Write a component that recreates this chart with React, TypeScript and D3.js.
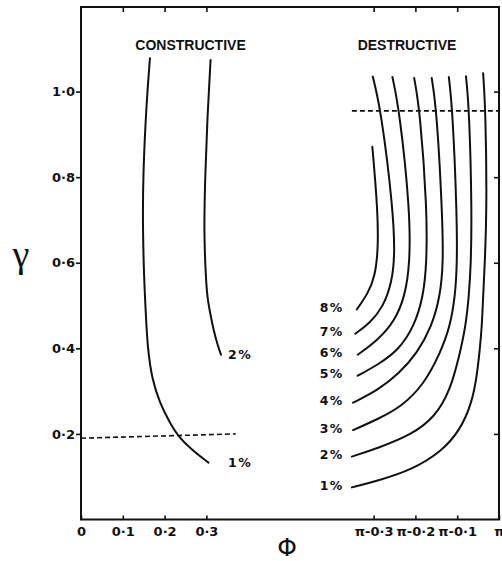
import React, { useEffect, useRef } from 'react'
import * as d3 from 'd3'

const W = 502
const H = 561

// gamma axis
const yTicks = [0.2, 0.4, 0.6, 0.8, 1.0]
const yTickLabels = ['0·2', '0·4', '0·6', '0·8', '1·0']

// phi axis (broken): low side, and the side near pi given as offsets from pi
const lowTicks = [0, 0.1, 0.2, 0.3]
const lowTickLabels = ['0', '0·1', '0·2', '0·3']
const piOffsets = [0.3, 0.2, 0.1, 0]
const piTickLabels = ['π-0·3', 'π-0·2', 'π-0·1', 'π']

// constructive contours, [phi, gamma]
const constructive1 = [
  [0.165, 1.078], [0.157, 0.98], [0.148, 0.8], [0.148, 0.67], [0.151, 0.56],
  [0.155, 0.482], [0.159, 0.404], [0.17, 0.326], [0.189, 0.272], [0.209, 0.233],
  [0.229, 0.198], [0.265, 0.163], [0.305, 0.133],
]
const constructive2 = [
  [0.31, 1.074], [0.302, 0.934], [0.297, 0.801], [0.294, 0.669], [0.299, 0.56],
  [0.302, 0.521], [0.309, 0.482], [0.317, 0.443], [0.328, 0.404], [0.335, 0.385],
]
const constructiveLabels = ['1%', '2%']

// destructive contours, [pi - phi, gamma]
const destructive1 = [
  [0.038, 1.043], [0.032, 0.955], [0.029, 0.723], [0.034, 0.599], [0.038, 0.521],
  [0.041, 0.451], [0.046, 0.396], [0.053, 0.335], [0.065, 0.272],
  [0.093, 0.209], [0.137, 0.159], [0.209, 0.116], [0.289, 0.091], [0.352, 0.075],
]
const destructive2 = [
  [0.079, 1.036], [0.071, 0.955], [0.065, 0.723], [0.067, 0.599], [0.072, 0.521],
  [0.08, 0.451], [0.093, 0.39], [0.117, 0.3], [0.153, 0.24],
  [0.209, 0.198], [0.289, 0.167], [0.352, 0.147],
]
const destructive3 = [
  [0.12, 1.034], [0.111, 0.955], [0.101, 0.723], [0.1, 0.599], [0.105, 0.521],
  [0.117, 0.451], [0.14, 0.39], [0.18, 0.315], [0.233, 0.264],
  [0.289, 0.235], [0.349, 0.209],
]
const destructive4 = [
  [0.161, 1.032], [0.149, 0.955], [0.136, 0.723], [0.133, 0.599], [0.141, 0.521],
  [0.161, 0.451], [0.195, 0.39], [0.24, 0.34], [0.289, 0.303],
  [0.349, 0.273],
]
const destructive5 = [
  [0.203, 1.032], [0.189, 0.955], [0.172, 0.723], [0.173, 0.599], [0.181, 0.521],
  [0.203, 0.451], [0.24, 0.396], [0.289, 0.362], [0.338, 0.336],
]
const destructive6 = [
  [0.255, 1.034], [0.238, 0.955], [0.213, 0.723], [0.213, 0.599], [0.225, 0.521],
  [0.25, 0.463], [0.289, 0.42], [0.338, 0.385],
]
const destructive7 = [
  [0.302, 1.035], [0.282, 0.955], [0.253, 0.723], [0.249, 0.614], [0.257, 0.552],
  [0.277, 0.497], [0.309, 0.459], [0.344, 0.434],
]
const destructive8 = [
  [0.303, 0.871], [0.29, 0.723], [0.289, 0.63], [0.297, 0.567], [0.313, 0.529],
  [0.34, 0.491],
]
const destructiveLabels = ['1%', '2%', '3%', '4%', '5%', '6%', '7%', '8%']

// dashed boundaries
const lowDashed = [[0, 0.19], [0.37, 0.2]]
const piDashed = [[0.352, 0.955], [0, 0.955]]

const App = () => {
  const svgRef = useRef<SVGSVGElement>(null)

  useEffect(() => {
    const svg = d3.select(svgRef.current)
    svg.selectAll('*').remove()

    const left = 81
    const right = 499
    const top = 6
    const bottom = 519.5
    const mid = (left + right) / 2

    const x = d3.scaleLinear()
      .domain([0, 0.5, Math.PI - 0.5, Math.PI])
      .range([left, mid, mid, right])
    const y = d3.scaleLinear().domain([0, 1.2]).range([bottom, top])

    const tickFont = 'DejaVu Sans, sans-serif'

    // frame
    svg.append('rect')
      .attr('x', left).attr('y', top + 1)
      .attr('width', right - left).attr('height', bottom - top - 1)
      .attr('fill', 'none').attr('stroke', '#111').attr('stroke-width', 2)

    const xTickVals = [...lowTicks, ...piOffsets.map(d => Math.PI - d)]
    const xTickLabels = [...lowTickLabels, ...piTickLabels]

    const gx = svg.append('g').attr('transform', `translate(0,${bottom})`)
      .call(d3.axisBottom(x).tickValues(xTickVals)
        .tickFormat((d, i) => xTickLabels[i]).tickSize(-4).tickPadding(7))
    const gTop = svg.append('g').attr('transform', `translate(0,${top + 1})`)
      .call(d3.axisTop(x).tickValues(xTickVals.filter(v => v > 0 && v < Math.PI))
        .tickFormat(() => '').tickSize(-5))
    const gy = svg.append('g').attr('transform', `translate(${left},0)`)
      .call(d3.axisLeft(y).tickValues(yTicks)
        .tickFormat((d, i) => yTickLabels[i]).tickSize(5).tickPadding(1))
    const gRight = svg.append('g').attr('transform', `translate(${right},0)`)
      .call(d3.axisRight(y).tickValues(yTicks).tickFormat(() => '').tickSize(-5))

    ;[gx, gTop, gy, gRight].forEach(g => {
      g.select('.domain').remove()
      g.selectAll('line').attr('stroke', '#111').attr('stroke-width', 1.6)
      g.selectAll('text')
        .attr('fill', '#111')
        .attr('font-family', tickFont)
        .attr('font-weight', 'bold')
        .attr('font-size', 13)
    })

    const line = d3.line<number[]>()
      .x(d => x(d[0]))
      .y(d => y(d[1]))
      .curve(d3.curveBasis)

    const fromPi = (pts: number[][]) => pts.map(p => [Math.PI - p[0], p[1]])

    const consCurves = [constructive1, constructive2]
    const desCurves = [destructive1, destructive2, destructive3, destructive4,
      destructive5, destructive6, destructive7, destructive8].map(fromPi)

    const curves = svg.append('g')
      .attr('fill', 'none').attr('stroke', '#111').attr('stroke-width', 2)
      .attr('stroke-linecap', 'round')
    ;[...consCurves, ...desCurves].forEach(c => {
      curves.append('path').attr('d', line(c as any))
    })

    const straight = d3.line<number[]>().x(d => x(d[0])).y(d => y(d[1]))
    const dashed = svg.append('g')
      .attr('fill', 'none').attr('stroke', '#111').attr('stroke-width', 1.6)
      .attr('stroke-dasharray', '5,3')
    dashed.append('path').attr('d', straight(lowDashed as any))
    dashed.append('path').attr('d', straight(fromPi(piDashed) as any))

    // percent labels
    const lab = svg.append('g')
      .attr('fill', '#111').attr('font-family', tickFont)
      .attr('font-weight', 'bold').attr('font-size', 12.5)
      .attr('letter-spacing', 1.5)

    const consLabelX = d3.max(consCurves, c => x(c[c.length - 1][0]))! + 7
    consCurves.forEach((c, i) => {
      const end = c[c.length - 1]
      lab.append('text')
        .attr('x', consLabelX).attr('y', y(end[1]))
        .attr('dy', '0.36em')
        .text(constructiveLabels[i])
    })

    const desLabelX = d3.min(desCurves, c => x(c[c.length - 1][0]))! - 8
    desCurves.forEach((c, i) => {
      const end = c[c.length - 1]
      lab.append('text')
        .attr('x', desLabelX).attr('y', y(end[1]) - 2)
        .attr('dy', '0.36em').attr('text-anchor', 'end')
        .text(destructiveLabels[i])
    })

    // region titles
    const titles = svg.append('g')
      .attr('fill', '#111').attr('font-family', 'Liberation Sans, Arial, sans-serif')
      .attr('font-weight', 'bold').attr('font-size', 14).attr('text-anchor', 'middle')
    titles.append('text').attr('x', x(0.262)).attr('y', 50).text('CONSTRUCTIVE')
    titles.append('text').attr('x', x(Math.PI - 0.22)).attr('y', 50).text('DESTRUCTIVE')

    // axis titles
    svg.append('text')
      .attr('x', x(0.5) - 3).attr('y', H - 5)
      .attr('text-anchor', 'middle').attr('font-family', tickFont)
      .attr('font-size', 25).attr('fill', '#111')
      .text('Φ')
    svg.append('text')
      .attr('x', 21).attr('y', y(0.6) + 4)
      .attr('text-anchor', 'middle').attr('font-family', 'Liberation Serif, serif')
      .attr('font-size', 38).attr('fill', '#111')
      .text('γ')
  }, [])

  return (
    <div style={{ position: 'absolute', left: 0, top: 0 }}>
      <svg ref={svgRef} width={W} height={H} style={{ display: 'block', background: '#fff' }} />
    </div>
  )
}

export default App
